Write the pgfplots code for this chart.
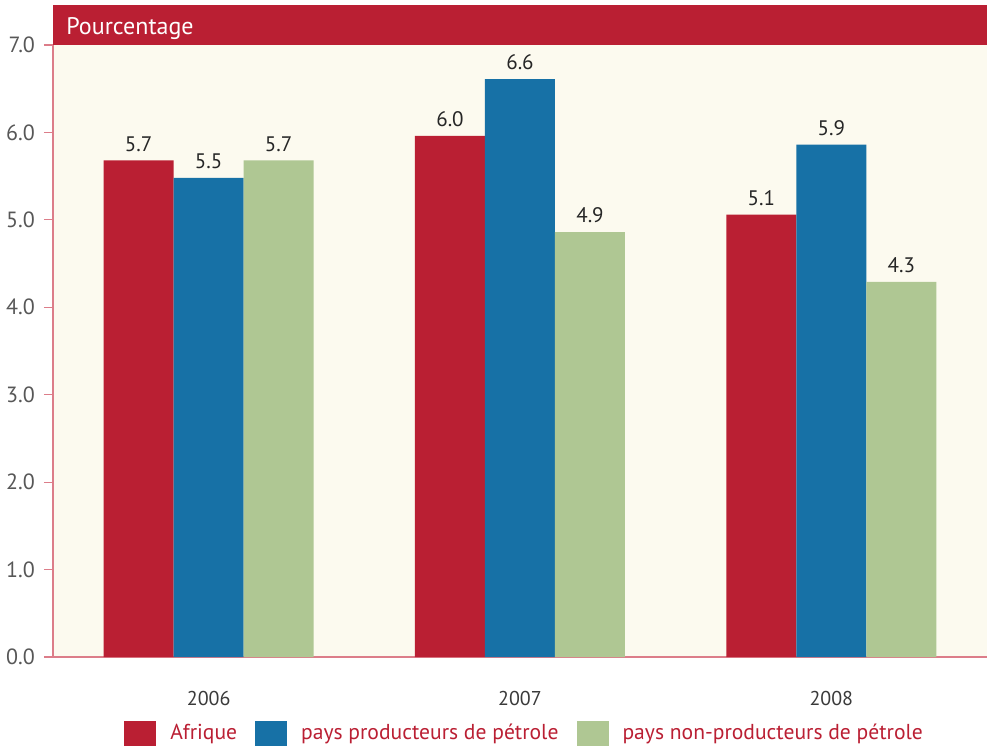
\documentclass[border=0pt]{standalone}
\usepackage{pgfplots}
\pgfplotsset{compat=1.18}
\usepackage{fontspec}
\setmainfont{PT Sans}
\definecolor{cred}{HTML}{BA1F33}
\definecolor{cblue}{HTML}{1771A6}
\definecolor{cgreen}{HTML}{AFC793}
\definecolor{cream}{HTML}{FCFAEF}
\definecolor{axred}{HTML}{DC7D89}
\definecolor{txt}{HTML}{3A3A3A}
\begin{document}
\begin{tikzpicture}
\begin{axis}[
  at={(0,0)}, anchor=south west,
  scale only axis,
  width=467pt, height=306pt,
  xmin=-0.5, xmax=2.5,
  ymin=0, ymax=7,
  ybar=0pt, bar width=35pt,
  clip=false,
  axis lines*=left,
  axis line style={axred, line width=0.8pt},
  axis background/.style={fill=cream},
  xtick={0,1,2},
  xticklabels={2006,2007,2008},
  major x tick style={draw=none},
  extra x ticks={-0.5,0.5,1.5,2.5},
  extra x tick labels={},
  extra x tick style={tick style={axred, line width=0.6pt}, major tick length=6pt, tick align=outside},
  xticklabel style={font=\fontsize{10}{12}\selectfont, text=txt, yshift=-9pt},
  ytick={0,1,2,3,4,5,6,7},
  ytick style={axred, line width=0.6pt},
  tick align=outside,
  major tick length=4.5pt,
  yticklabel style={font=\fontsize{11}{13}\selectfont, text=txt!85, xshift=-1pt},
  /pgf/number format/assume math mode=true,
  yticklabel={\pgfmathprintnumber[fixed,fixed zerofill,precision=1]{\tick}},
  nodes near coords={\pgfmathprintnumber[fixed,fixed zerofill,precision=1]{\pgfplotspointmeta}},
  every node near coord/.append style={font=\fontsize{10.5}{12}\selectfont, text=black!85, yshift=1pt},
  legend columns=3,
  legend style={at={(0.506,-0.124)}, anchor=center, draw=none, fill=none,
    font=\fontsize{10.8}{13}\selectfont, text=cred,
    /tikz/every odd column/.append style={column sep=5pt},
    /tikz/every even column/.append style={column sep=7pt}},
  legend cell align=left,
]
\addplot[fill=cred, draw=none, legend image code/.code={\fill[cred] (0pt,-6.5pt) rectangle (16pt,6pt);}]
  coordinates {(0,5.68) (1,5.96) (2,5.06)};
\addplot[fill=cblue, draw=none, legend image code/.code={\fill[cblue] (0pt,-6.5pt) rectangle (16pt,6pt);}]
  coordinates {(0,5.48) (1,6.61) (2,5.86)};
\addplot[fill=cgreen, draw=none, legend image code/.code={\fill[cgreen] (0pt,-6.5pt) rectangle (16pt,6pt);}]
  coordinates {(0,5.68) (1,4.86) (2,4.29)};
\legend{Afrique, pays producteurs de pétrole, pays non-producteurs de pétrole}
\fill[cred] (rel axis cs:0,1) rectangle ([yshift=20pt]rel axis cs:1,1);
\node[anchor=west, text=white, font=\fontsize{12}{14}\selectfont, inner sep=0pt]
  at ([xshift=6.5pt, yshift=8pt]rel axis cs:0,1) {Pourcentage};
\end{axis}
\pgfresetboundingbox
\useasboundingbox (-26.5pt,-44.5pt) rectangle (467pt,328.5pt);
\end{tikzpicture}
\end{document}
